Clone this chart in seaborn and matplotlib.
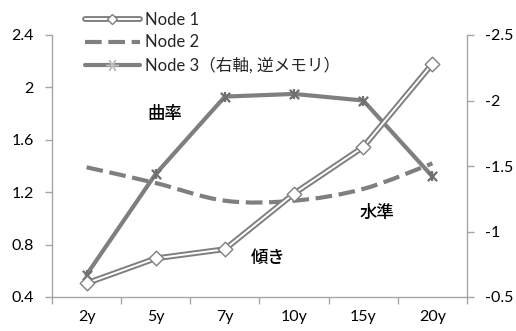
import numpy as np
import pandas as pd
import matplotlib
matplotlib.use("Agg")
import matplotlib.pyplot as plt
import seaborn as sns
from matplotlib.path import Path
from matplotlib.patches import PathPatch
from matplotlib.lines import Line2D
import matplotlib.patheffects as pe
from matplotlib.ticker import FuncFormatter, FixedLocator, NullFormatter

# ---- data ----
categories = ["2y", "5y", "7y", "10y", "15y", "20y"]
node1 = [0.505, 0.695, 0.765, 1.19, 1.545, 2.18]
node2 = [1.39, 1.27, 1.135, 1.135, 1.225, 1.42]
node3 = [-0.67, -1.44, -2.03, -2.05, -2.0, -1.42]   # right axis (reversed)
left_ticks = [0.4, 0.8, 1.2, 1.6, 2.0, 2.4]
right_ticks = [-2.5, -2.0, -1.5, -1.0, -0.5]
legend_labels = ["Node 1", "Node 2", "Node 3（右軸, 逆メモリ）"]
annotations = [("曲率", 1.13, 1.80), ("水準", 4.2, 1.04), ("傾き", 2.63, 0.70)]

sns.set_theme(style="white")
plt.rcParams["font.family"] = ["Lato", "Noto Sans CJK JP", "DejaVu Sans"]

GRAY = "#7f7f7f"
AXC = "#a6a6a6"
DASH = (0, (4, 1.6))

df = pd.DataFrame({"cat": categories, "x": np.arange(len(categories)),
                   "n1": node1, "n2": node2, "n3": node3})

fig = plt.figure(figsize=(5.16, 3.31), dpi=100)
ax = fig.add_axes([52 / 516, 1 - 297 / 331, (467 - 52) / 516, (297 - 35) / 331])
ax2 = ax.twinx()

# Node 3 on right (reversed) axis
sns.lineplot(data=df, x="x", y="n3", ax=ax2, color=GRAY, linewidth=3, zorder=2)
sns.scatterplot(data=df, x="x", y="n3", ax=ax2, marker="x", s=45, color="#6f6f6f",
                linewidth=1.6, zorder=3)
sns.scatterplot(data=df, x="x", y="n3", ax=ax2, marker="|", s=45, color="#6f6f6f",
                linewidth=1.6, zorder=3)

# Node 2: smoothed dashed line (Bezier through data points)
xs = df["x"].to_numpy(dtype=float)
ys = df["n2"].to_numpy(dtype=float)
P = np.column_stack([xs, ys])
verts = [P[0]]
codes = [Path.MOVETO]
n = len(P)
for i in range(n - 1):
    p0 = P[i - 1] if i > 0 else P[i]
    p1 = P[i]
    p2 = P[i + 1]
    p3 = P[i + 2] if i + 2 < n else P[i + 1]
    c1 = p1 + (p2 - p0) / 6.0
    c2 = p2 - (p3 - p1) / 6.0
    verts += [c1, c2, p2]
    codes += [Path.CURVE4] * 3
patch = PathPatch(Path(verts, codes), fill=False, edgecolor=GRAY, linewidth=3,
                  linestyle=DASH, zorder=2, transform=ax.transData)

# Node 1: double line with white diamonds
sns.lineplot(data=df, x="x", y="n1", ax=ax, color="white", linewidth=1.4, zorder=3)
line1 = ax.lines[-1]
line1.set_path_effects([pe.Stroke(linewidth=4.2, foreground=GRAY), pe.Normal()])
sns.scatterplot(data=df, x="x", y="n1", ax=ax, marker="D", s=55, color="white",
                edgecolor=GRAY, linewidth=1.0, zorder=4)
ax.add_patch(patch)

ax.set_zorder(ax2.get_zorder() + 1)
ax.patch.set_visible(False)

# axes limits and ticks
ax.set_xlim(-0.5, len(categories) - 0.5)
ax.set_ylim(0.4, 2.4)
ax2.set_ylim(-0.5, -2.5)
ax.set_yticks(left_ticks)
ax2.set_yticks(right_ticks)
fmt = FuncFormatter(lambda v, p: f"{v:g}")
ax.yaxis.set_major_formatter(fmt)
ax2.yaxis.set_major_formatter(fmt)
ax.set_xticks(df["x"])
ax.set_xticklabels(categories)
ax.xaxis.set_minor_locator(FixedLocator(np.arange(-0.5, len(categories), 1.0)))
ax.xaxis.set_minor_formatter(NullFormatter())
ax.tick_params(axis="x", which="major", length=0, pad=9, labelsize=11.5, colors="black")
ax.tick_params(axis="x", which="minor", length=5, width=1, color=AXC, direction="out",
               bottom=True)
ax.tick_params(axis="y", length=5, width=1, color=AXC, direction="out", left=True,
               labelsize=11.5, pad=8, labelcolor="black")
ax2.tick_params(axis="y", length=5, width=1, color=AXC, direction="out", right=True,
                labelsize=11.5, pad=8, labelcolor="black")
for a in (ax, ax2):
    a.set_xlabel("")
    a.set_ylabel("")
    a.grid(False)
    a.spines["top"].set_visible(False)
    for side in ("left", "right", "bottom"):
        a.spines[side].set_color(AXC)
        a.spines[side].set_linewidth(1)
ax.spines["right"].set_visible(False)
ax2.spines["left"].set_visible(False)
ax2.spines["bottom"].set_visible(False)

# annotations
for txt, xx, yy in annotations:
    ax.text(xx, yy, txt, fontsize=12.5, color="black", ha="center", va="center",
            style="italic", fontweight="medium",
            family=["Noto Sans CJK JP", "DejaVu Sans"])

# legend
h1_line = Line2D([], [], color="white", linewidth=1.4,
                 path_effects=[pe.Stroke(linewidth=4.2, foreground=GRAY), pe.Normal()])
h1_mark = Line2D([], [], linestyle="none", marker="D", markersize=5.5,
                 markerfacecolor="white", markeredgecolor=GRAY, markeredgewidth=1)
h2 = Line2D([], [], color=GRAY, linewidth=3, linestyle=DASH)
h3 = Line2D([], [], color=GRAY, linewidth=3, marker=(6, 2, 90), markersize=9,
            markeredgecolor="#bfbfbf", markeredgewidth=1)
leg = fig.legend([(h1_line, h1_mark), h2, h3], legend_labels, loc="upper left",
                 bbox_to_anchor=(78 / 516, 1 - 5 / 331), frameon=False,
                 handlelength=3.3, handletextpad=0.3,
                 labelspacing=0.4, borderaxespad=0,
                 prop={"family": ["Lato", "Noto Sans CJK JP"], "size": 12})

fig.savefig("out.png", dpi=100)
